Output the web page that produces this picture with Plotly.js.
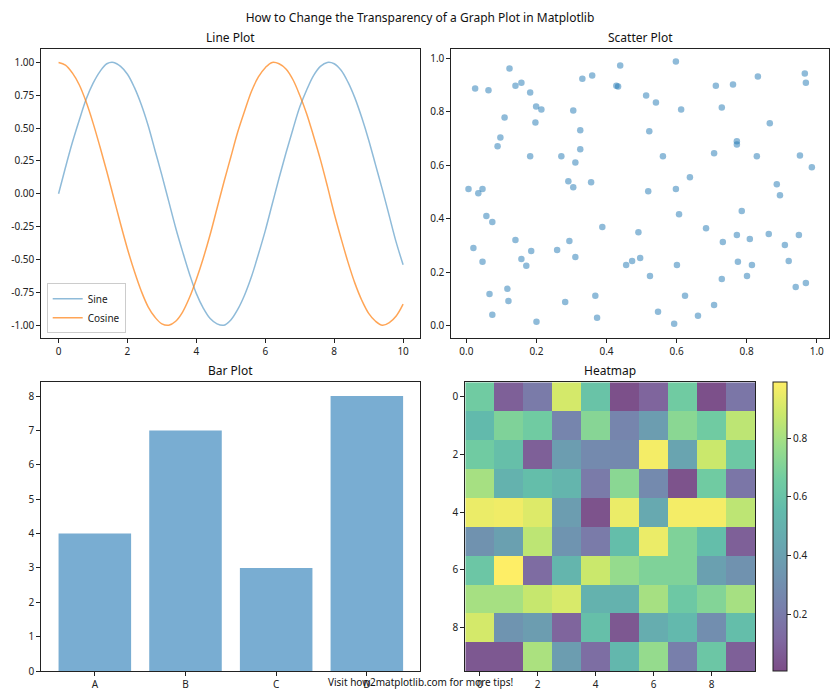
<!DOCTYPE html>
<html><head><meta charset="utf-8">
<script src="https://cdn.plot.ly/plotly-3.0.1.min.js"></script>
<style>html,body{margin:0;padding:0;background:#fff}#chart{width:840px;height:700px}</style>
</head><body><div id="chart"></div>
<script>
const lineX = [0,0.2,0.4,0.6,0.8,1.0,1.2,1.4,1.6,1.8,2.0,2.2,2.4,2.6,2.8,3.0,3.2,3.4,3.6,3.8,4.0,4.2,4.4,4.6,4.8,5.0,5.2,5.4,5.6,5.8,6.0,6.2,6.4,6.6,6.8,7.0,7.2,7.4,7.6,7.8,8.0,8.2,8.4,8.6,8.8,9.0,9.2,9.4,9.6,9.8,10.0];
const sineY = [0.00,0.20,0.39,0.56,0.72,0.84,0.93,0.99,1.00,0.97,0.91,0.81,0.68,0.52,0.33,0.14,-0.06,-0.26,-0.44,-0.61,-0.76,-0.87,-0.95,-0.99,-1.00,-0.96,-0.88,-0.77,-0.63,-0.46,-0.28,-0.08,0.12,0.31,0.49,0.66,0.79,0.90,0.97,1.00,0.99,0.94,0.85,0.73,0.58,0.41,0.22,0.03,-0.17,-0.37,-0.54];
const cosineY = [1.00,0.98,0.92,0.83,0.70,0.54,0.36,0.17,-0.03,-0.23,-0.42,-0.59,-0.74,-0.86,-0.94,-0.99,-1.00,-0.97,-0.90,-0.79,-0.65,-0.49,-0.31,-0.11,0.09,0.28,0.47,0.63,0.78,0.89,0.96,1.00,0.99,0.95,0.87,0.75,0.61,0.44,0.26,0.06,-0.15,-0.34,-0.52,-0.68,-0.81,-0.91,-0.97,-1.00,-0.98,-0.93,-0.84];
const lineYTicks = [-1,-0.75,-0.5,-0.25,0,0.25,0.5,0.75,1];
const lineYTickText = ['-1.00','-0.75','-0.50','-0.25','0.00','0.25','0.50','0.75','1.00'];

const scatterX = [0.123,0.439,0.025,0.063,0.140,0.157,0.182,0.331,0.359,0.428,0.433,0.199,0.214,0.305,0.109,0.197,0.325,0.097,0.089,0.325,0.182,0.271,0.311,0.291,0.356,0.305,0.006,0.046,0.034,0.057,0.074,0.388,0.491,0.020,0.140,0.294,0.157,0.185,0.259,0.311,0.046,0.171,0.456,0.473,0.496,0.066,0.117,0.120,0.282,0.368,0.074,0.200,0.373,0.598,0.832,0.966,0.969,0.712,0.761,0.513,0.541,0.613,0.729,0.866,0.522,0.772,0.772,0.561,0.707,0.829,0.952,0.986,0.638,0.886,0.519,0.598,0.895,0.607,0.786,0.684,0.772,0.809,0.863,0.949,0.732,0.909,0.601,0.775,0.815,0.920,0.524,0.729,0.801,0.940,0.969,0.624,0.707,0.547,0.661,0.593];
const scatterY = [0.962,0.973,0.887,0.881,0.898,0.909,0.872,0.924,0.936,0.898,0.895,0.820,0.809,0.805,0.779,0.760,0.731,0.704,0.671,0.660,0.634,0.634,0.611,0.540,0.537,0.518,0.511,0.511,0.496,0.410,0.388,0.369,0.350,0.291,0.321,0.317,0.250,0.280,0.283,0.257,0.239,0.224,0.227,0.242,0.253,0.119,0.138,0.093,0.089,0.112,0.041,0.015,0.030,0.988,0.932,0.943,0.909,0.898,0.902,0.861,0.835,0.809,0.816,0.757,0.727,0.690,0.678,0.634,0.645,0.634,0.637,0.593,0.555,0.529,0.503,0.511,0.488,0.417,0.429,0.365,0.339,0.324,0.343,0.339,0.313,0.302,0.227,0.239,0.227,0.242,0.186,0.175,0.186,0.145,0.160,0.112,0.078,0.052,0.037,0.007];
const scatterTicks = [0,0.2,0.4,0.6,0.8,1.0];
const scatterTickText = ['0.0','0.2','0.4','0.6','0.8','1.0'];

const barCategories = ['A','B','C','D'];
const barValues = [4,7,3,8];

const heatZ = [
  [0.65,0.08,0.20,0.90,0.60,0.02,0.10,0.65,0.02,0.18],
  [0.55,0.70,0.65,0.25,0.72,0.25,0.38,0.73,0.65,0.85],
  [0.65,0.58,0.08,0.38,0.28,0.27,0.97,0.42,0.88,0.63],
  [0.80,0.50,0.57,0.52,0.20,0.73,0.28,0.03,0.65,0.18],
  [0.95,0.96,0.92,0.38,0.03,0.95,0.45,0.97,0.97,0.85],
  [0.32,0.40,0.85,0.33,0.20,0.57,0.95,0.70,0.57,0.08],
  [0.62,0.99,0.13,0.52,0.88,0.76,0.70,0.70,0.40,0.32],
  [0.80,0.80,0.87,0.91,0.50,0.50,0.80,0.63,0.71,0.80],
  [0.90,0.33,0.38,0.10,0.58,0.05,0.47,0.54,0.30,0.57],
  [0.05,0.05,0.81,0.38,0.14,0.53,0.76,0.22,0.62,0.08]
];
const heatTicks = [0,2,4,6,8];
const colorbarTicks = [0.2,0.4,0.6,0.8];

// viridis blended with white at alpha 0.7
const viridisAlpha = [
  [0.0,'rgb(124,77,135)'],[0.111,'rgb(127,105,161)'],[0.222,'rgb(120,128,172)'],
  [0.333,'rgb(111,149,176)'],[0.444,'rgb(103,168,176)'],[0.556,'rgb(98,187,172)'],
  [0.667,'rgb(114,205,161)'],[0.778,'rgb(154,221,138)'],[0.889,'rgb(203,232,107)'],
  [1.0,'rgb(254,238,102)']
];

const FONT = 'Noto Sans, Open Sans, DejaVu Sans, sans-serif';
const INK = '#222';
function ax(extra){
  return Object.assign({
    showline:true, mirror:true, linecolor:INK, linewidth:1,
    ticks:'outside', ticklen:4, tickwidth:1, tickcolor:INK,
    showgrid:false, zeroline:false, tickfont:{size:10,color:INK,family:FONT}
  }, extra);
}

const traces = [
  {x:lineX, y:sineY, type:'scatter', mode:'lines', name:'Sine', xaxis:'x', yaxis:'y',
   line:{color:'rgba(31,119,180,0.5)', width:1.5, shape:'spline'}},
  {x:lineX, y:cosineY, type:'scatter', mode:'lines', name:'Cosine', xaxis:'x', yaxis:'y',
   line:{color:'rgba(255,127,14,0.7)', width:1.5, shape:'spline'}},
  {x:scatterX, y:scatterY, type:'scatter', mode:'markers', showlegend:false, xaxis:'x2', yaxis:'y2',
   marker:{color:'rgba(31,119,180,0.5)', size:6.5, line:{width:0}}},
  {x:barCategories, y:barValues, type:'bar', showlegend:false, xaxis:'x3', yaxis:'y3', width:0.8,
   marker:{color:'rgba(31,119,180,0.6)', line:{width:0}}},
  {z:heatZ, type:'heatmap', xaxis:'x4', yaxis:'y4', colorscale:viridisAlpha, zmin:0.007, zmax:0.991,
   showscale:true,
   colorbar:{x:773.3/840, xanchor:'left', y:0.0414, yanchor:'bottom', len:0.4125, lenmode:'fraction',
     thickness:14, thicknessmode:'pixels', xpad:0, ypad:0, outlinewidth:1, outlinecolor:INK,
     ticks:'outside', ticklen:4, tickcolor:INK, tickvals:colorbarTicks,
     tickfont:{size:10,color:INK,family:FONT}}}
];

function subTitle(text, x, y){
  return {text:text, x:x, y:y, xref:'paper', yref:'paper', xanchor:'center', yanchor:'bottom',
    showarrow:false, yshift:1, font:{size:12,color:'#111',family:FONT}};
}

const layout = {
  width:840, height:700, margin:{l:0,r:0,t:0,b:0},
  paper_bgcolor:'#fff', plot_bgcolor:'#fff',
  font:{family:FONT, color:INK},
  title:{text:'How to Change the Transparency of a Graph Plot in Matplotlib', x:0.5, xanchor:'center',
    y:1-18/700, yanchor:'middle', font:{size:12,color:'#111',family:FONT}},
  showlegend:true,
  legend:{x:0.0556, y:0.5238, xanchor:'left', yanchor:'bottom', bgcolor:'rgba(255,255,255,0.8)',
    bordercolor:'#ccc', borderwidth:1, font:{size:10,color:INK,family:FONT}, tracegroupgap:0},
  xaxis: ax({domain:[0.0492,0.5004], anchor:'y', range:[-0.5,10.5], tickvals:[0,2,4,6,8,10]}),
  yaxis: ax({domain:[0.5167,0.9296], anchor:'x', range:[-1.1,1.1], tickvals:lineYTicks, ticktext:lineYTickText}),
  xaxis2: ax({domain:[0.5373,0.9869], anchor:'y2', range:[-0.043,1.035], tickvals:scatterTicks, ticktext:scatterTickText}),
  yaxis2: ax({domain:[0.5167,0.9296], anchor:'x2', range:[-0.047,1.034], tickvals:scatterTicks, ticktext:scatterTickText}),
  xaxis3: ax({domain:[0.0492,0.5004], anchor:'y3', type:'category', range:[-0.59,3.59]}),
  yaxis3: ax({domain:[0.0414,0.4539], anchor:'x3', range:[0,8.4], dtick:1}),
  xaxis4: ax({domain:[0.5539,0.8988], anchor:'y4', range:[-0.5,9.5], tickvals:heatTicks}),
  yaxis4: ax({domain:[0.0414,0.4539], anchor:'x4', range:[9.5,-0.5], tickvals:heatTicks}),
  annotations:[
    subTitle('Line Plot', 0.2748, 0.9296),
    subTitle('Scatter Plot', 0.7621, 0.9296),
    subTitle('Bar Plot', 0.2748, 0.4539),
    subTitle('Heatmap', 0.7264, 0.4539),
    {text:'Visit how2matplotlib.com for more tips!', x:0.5, y:1-682/700, xref:'paper', yref:'paper',
     xanchor:'center', yanchor:'middle', showarrow:false, font:{size:10,color:'#111',family:FONT}}
  ]
};

Plotly.newPlot('chart', traces, layout, {displayModeBar:false, staticPlot:true});
</script>
</body></html>
